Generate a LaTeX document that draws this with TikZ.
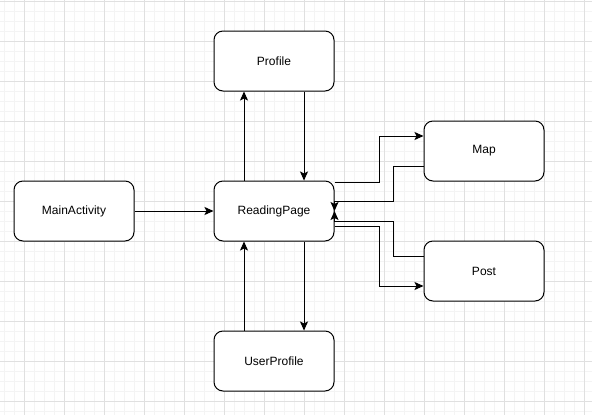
\documentclass[tikz,border=0pt]{standalone}
\usepackage{fontspec}
\setmainfont{Liberation Sans}
\usetikzlibrary{arrows.meta}
\definecolor{gridminor}{HTML}{F4F4F4}
\definecolor{gridmajor}{HTML}{E0E0E0}
\tikzset{
  box/.style={draw=black, fill=white, line width=1pt, rounded corners=9pt,
    minimum width=120pt, minimum height=60pt, inner sep=0pt, font=\fontsize{12}{14}\selectfont},
  conn/.style={draw=black, line width=1pt, -{Stealth[length=9pt,width=8pt,inset=2pt]}},
}
\begin{document}
\begin{tikzpicture}[x=1pt,y=-1pt]
\useasboundingbox (0,0) rectangle (592,415);
\fill[white] (0,0) rectangle (592,415);
% grid
\foreach \gx in {4,14,...,594} \draw[gridminor, line width=0.8pt] (\gx,0) -- (\gx,415);
\foreach \gy in {1,11,...,415} \draw[gridminor, line width=0.8pt] (0,\gy) -- (592,\gy);
\foreach \gx in {24,64,...,594} \draw[gridmajor, line width=0.8pt] (\gx,0) -- (\gx,415);
\foreach \gy in {1,41,...,415} \draw[gridmajor, line width=0.8pt] (0,\gy) -- (592,\gy);
% nodes
\node[box] (main) at (74,211) {MainActivity};
\node[box] (read) at (274,211) {ReadingPage};
\node[box] (prof) at (274,61) {Profile};
\node[box] (user) at (274,361) {UserProfile};
\node[box] (map) at (484,151) {Map};
\node[box] (post) at (484,271) {Post};
% connectors
\draw[conn] (main.east) -- (read.west);
\draw[conn] ([xshift=-30pt]read.north) -- ([xshift=-30pt]prof.south);
\draw[conn] ([xshift=30pt]prof.south) -- ([xshift=30pt]read.north);
\draw[conn] ([xshift=30pt]read.south) -- ([xshift=30pt]user.north);
\draw[conn] ([xshift=-30pt]user.north) -- ([xshift=-30pt]read.south);
\draw[conn] ([yshift=29pt]read.east) -| ++(45,0) |- ([yshift=15pt]map.west);
\draw[conn] ([yshift=-15pt]map.west) -- ++(-30,0) |- ([yshift=10pt]read.east) -- (read.east);
\draw[conn] ([yshift=15pt]post.west) -- ++(-30,0) |- ([yshift=-10.5pt]read.east) -- (read.east);
\draw[conn] ([yshift=-15.5pt]read.east) -- ++(45,0) |- ([yshift=-15pt]post.west);
\end{tikzpicture}
\end{document}
